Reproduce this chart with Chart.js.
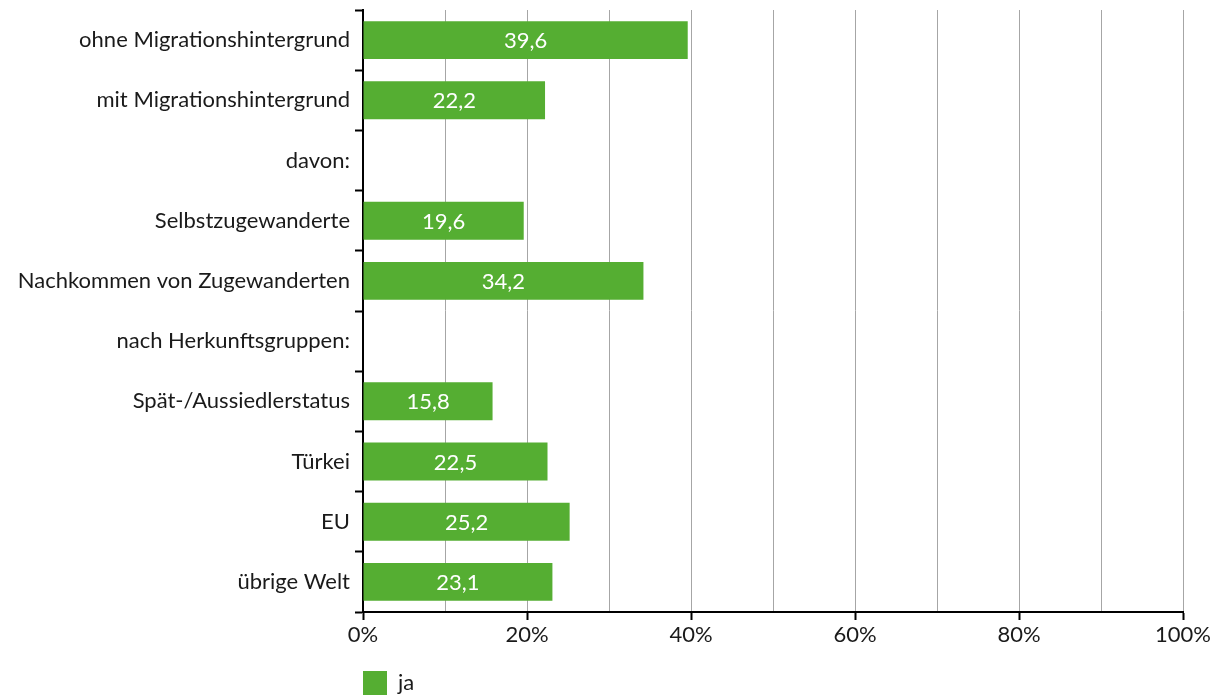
<!DOCTYPE html>
<html lang="de">
<head>
  <meta charset="UTF-8" />
  <title>Anteil ja nach Migrationshintergrund</title>
  <script src="https://cdn.jsdelivr.net/npm/chart.js"></script>
  <style>
    html, body { margin: 0; padding: 0; background: #fff; }
    #wrap { width: 1227px; height: 699px; }
  </style>
</head>
<body>
  <div id="wrap"><canvas id="chart"></canvas></div>

  <script>
    const kategorien = [
      'ohne Migrationshintergrund',
      'mit Migrationshintergrund',
      'davon:',
      'Selbstzugewanderte',
      'Nachkommen von Zugewanderten',
      'nach Herkunftsgruppen:',
      'Spät-/Aussiedlerstatus',
      'Türkei',
      'EU',
      'übrige Welt'
    ];
    const werteJa = [39.6, 22.2, null, 19.6, 34.2, null, 15.8, 22.5, 25.2, 23.1];
    const serienName = 'ja';

    const gruen = '#55ae32';
    const schrift = 'Lato, "Open Sans", sans-serif';

    // Werte weiß mittig in die Balken schreiben
    const balkenText = {
      id: 'balkenText',
      afterDatasetsDraw(chart) {
        const ctx = chart.ctx;
        const meta = chart.getDatasetMeta(0);
        ctx.save();
        ctx.fillStyle = '#ffffff';
        ctx.font = '22px ' + schrift;
        ctx.textAlign = 'center';
        ctx.textBaseline = 'middle';
        meta.data.forEach((bar, i) => {
          const v = werteJa[i];
          if (v == null) return;
          const x = (bar.x + bar.base) / 2;
          ctx.fillText(v.toFixed(1).replace('.', ','), x, bar.y + 1);
        });
        ctx.restore();
      }
    };

    new Chart(document.getElementById('chart'), {
      type: 'bar',
      data: {
        labels: kategorien,
        datasets: [{
          label: serienName,
          data: werteJa,
          backgroundColor: gruen,
          categoryPercentage: 1,
          barPercentage: 0.63
        }]
      },
      options: {
        indexAxis: 'y',
        responsive: true,
        maintainAspectRatio: false,
        animation: false,
        layout: { padding: { top: 10, right: 44, left: 0, bottom: 0 } },
        scales: {
          x: {
            min: 0,
            max: 100,
            ticks: {
              stepSize: 10,
              color: '#1a1a1a',
              font: { family: schrift, size: 22 },
              padding: 2,
              maxRotation: 0,
              callback: (v) => (v % 20 === 0 ? v + '%' : '')
            },
            grid: {
              color: '#a6a6a6',
              lineWidth: 1,
              tickLength: 8,
              tickColor: (c) => (c.tick && c.tick.value % 20 === 0 ? '#000' : 'rgba(0,0,0,0)'),
              tickWidth: 2
            },
            border: { color: '#000', width: 2 },
            afterFit: (s) => { s.height = 59; }
          },
          y: {
            ticks: {
              color: '#1a1a1a',
              font: { family: schrift, size: 22 },
              padding: 5
            },
            grid: {
              offset: true,
              drawOnChartArea: false,
              tickLength: 8,
              tickColor: '#000',
              tickWidth: 2
            },
            border: { color: '#000', width: 2 },
            afterFit: (s) => { s.width = 363; s.paddingTop = 0; s.paddingBottom = 0; }
          }
        },
        plugins: {
          legend: {
            position: 'bottom',
            align: 'start',
            fullSize: false,
            maxHeight: 28,
            labels: {
              boxWidth: 24,
              boxHeight: 24,
              padding: 0,
              color: '#1a1a1a',
              font: { family: schrift, size: 22 }
            }
          },
          tooltip: { enabled: false }
        }
      },
      plugins: [balkenText]
    });
  </script>
</body>
</html>
